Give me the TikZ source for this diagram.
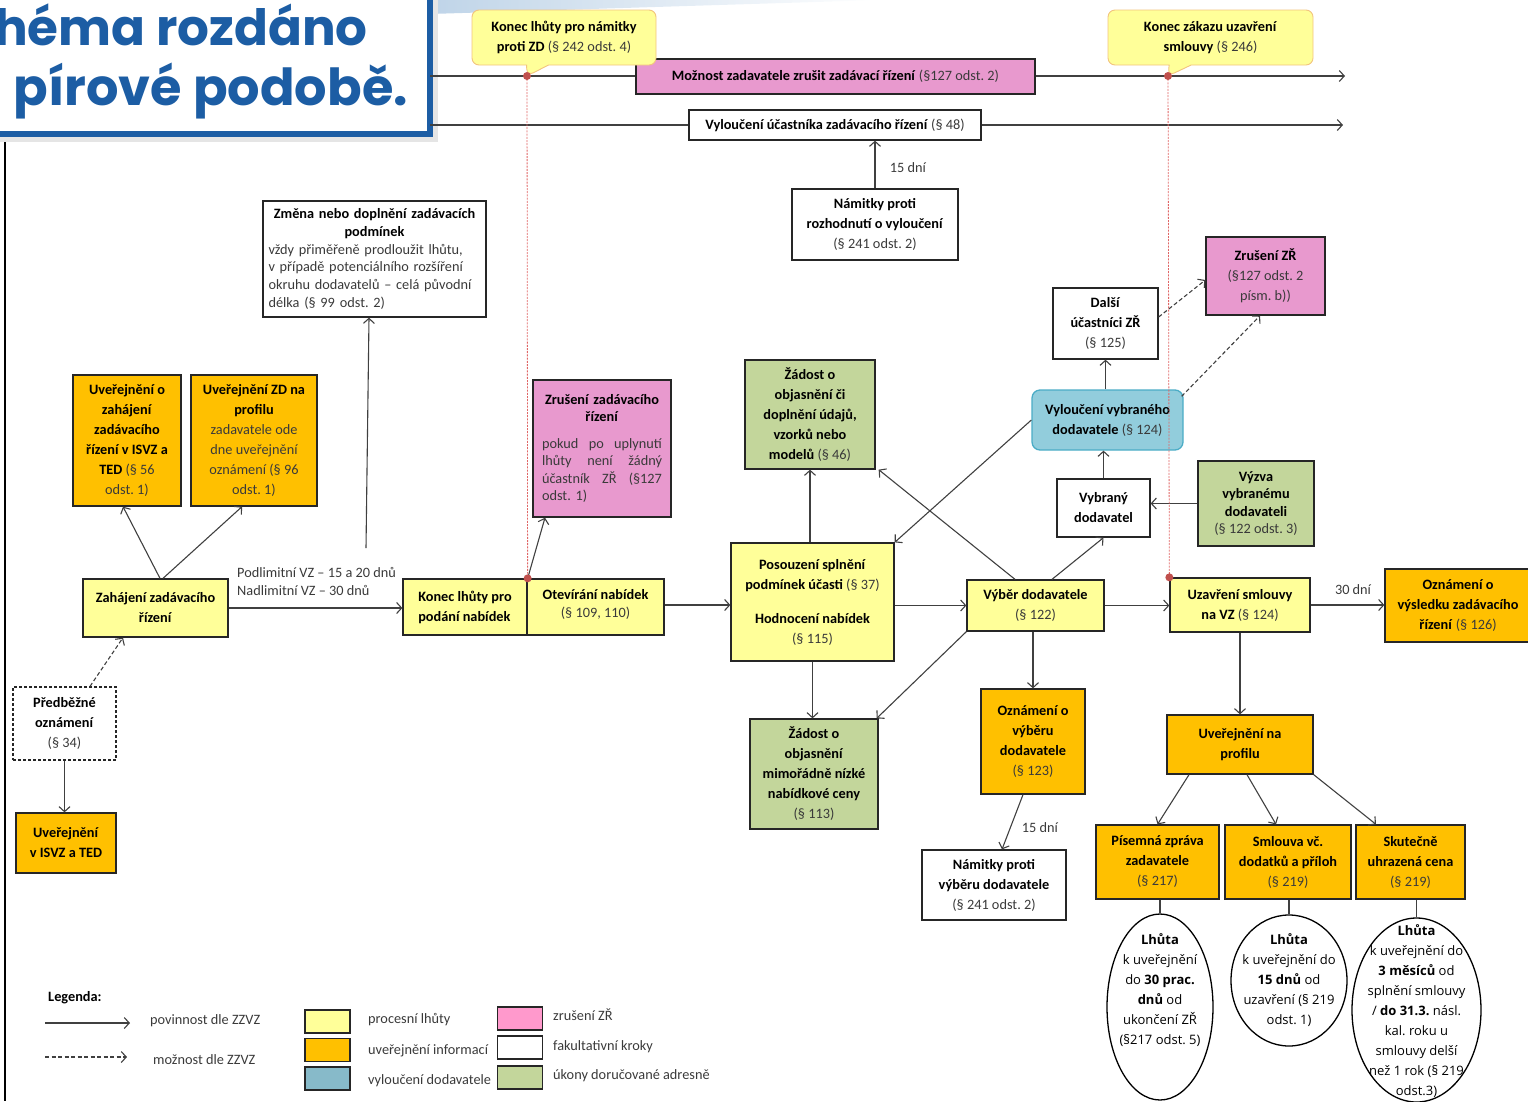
\documentclass[tikz,border=0pt]{standalone}
\usepackage{fontspec}
\setmainfont{Carlito}
\newfontfamily\ellfont{Open Sans}
\newfontfamily\titlefont{Poppins}
\usetikzlibrary{arrows.meta,shapes.geometric,shapes.callouts}

\definecolor{yelF}{HTML}{FFFF99}
\definecolor{orgF}{HTML}{FFC000}
\definecolor{pinkF}{HTML}{E899CE}
\definecolor{pinkL}{HTML}{FF99CC}
\definecolor{grnF}{HTML}{C3D69B}
\definecolor{bluF}{HTML}{92CDDC}
\definecolor{bluD}{HTML}{4BACC6}
\definecolor{bluL}{HTML}{87BAC9}
\definecolor{boxC}{HTML}{262626}
\definecolor{lineC}{HTML}{404040}
\definecolor{parC}{HTML}{3A3A3A}
\definecolor{callD}{HTML}{F2C47E}
\definecolor{redD}{HTML}{C0504D}
\definecolor{redL}{HTML}{E06666}
\definecolor{titleC}{HTML}{1C5DA4}
\definecolor{stripC}{HTML}{BFD4E8}

\newcommand{\parg}[1]{{\color{parC}#1}}

\begin{document}
\frenchspacing
\begin{tikzpicture}[x=1pt,y=-1pt,
  every node/.style={font=\fontsize{14.3}{20}\selectfont},
  wh/.style 2 args={minimum width=#1pt,minimum height=#2pt},
  box/.style={draw=boxC,line width=1.3pt,align=center,inner sep=2pt},
  yelbox/.style={box,fill=yelF},
  orgbox/.style={box,fill=orgF},
  pinkbox/.style={box,fill=pinkF},
  grnbox/.style={box,fill=grnF},
  whtbox/.style={box,fill=white},
  blubox/.style={box,draw=bluD,fill=bluF,rounded corners=8pt},
  callbox/.style={rectangle callout,draw=callD,fill=yelF,line width=0.9pt,
    rounded corners=7pt,align=center,inner sep=2pt,callout pointer width=22pt},
  ellbox/.style={ellipse,draw=black,line width=1.3pt,fill=white,inner sep=0pt},
  elltxt/.style={align=center,font=\ellfont\fontsize{13}{20}\selectfont,inner sep=0pt},
  lbl/.style={text=parC,inner sep=1pt},
  arr/.style={draw=lineC,line width=1.1pt,-{Straight Barb[length=5pt,width=11pt]}},
  darr/.style={arr,dash pattern=on 4pt off 2.5pt},
  redline/.style={draw=redL,line width=0.8pt,dash pattern=on 2pt off 1.2pt},
  swatch/.style={draw=black!85,line width=1.3pt,wh={45}{23}},
]
\useasboundingbox (0,0) rectangle (1528,1101);
\clip (0,0) rectangle (1528,1101);

% slide decoration and title
\shade[left color=stripC,right color=white] (430,0) -- (880,0) -- (430,14) -- cycle;
\draw[line width=1.2pt] (5,135) -- (5,1101);
\fill[black!10] (-20,-20) rectangle (438,142);
\draw[titleC,line width=5.5pt,fill=white] (-20,-20) rectangle (430,134);
\node[anchor=base east,inner sep=0pt,text=titleC,font=\titlefont\bfseries\fontsize{50}{56}\selectfont]
  (titleA) at (368,45) {héma rozdáno};
\node[anchor=base east,inner sep=0pt,text=titleC,font=\titlefont\bfseries\fontsize{51}{56}\selectfont]
  (titleB) at (408,105) {pírové podobě.};

% time axes
\coordinate (barAs) at (430,76);
\coordinate (barAe) at (1345,76);
\coordinate (barBs) at (430,125);
\coordinate (barBe) at (1343,125);
\coordinate (dotA) at (527,76);
\coordinate (dotC) at (1168,76);
\draw[arr] (barAs) -- (barAe);
\draw[arr] (barBs) -- (barBe);
\node[pinkbox,wh={399}{35}] (zrusBar) at (835.5,76.5)
  {\textbf{Možnost zadavatele zrušit zadávací řízení} \parg{(§127 odst. 2)}};
\node[whtbox,wh={292}{30}] (vylUc) at (835,125)
  {\textbf{Vyloučení účastníka zadávacího řízení} \parg{(§ 48)}};
\node[callbox,wh={184}{55},callout absolute pointer={(dotA)}] (callA) at (564,37.5)
  {\textbf{Konec lhůty pro námitky}\\\textbf{proti ZD} \parg{(§ 242 odst. 4)}};
\node[callbox,wh={205}{55},callout absolute pointer={(dotC)}] (callC) at (1210.5,37.5)
  {\textbf{Konec zákazu uzavření}\\\textbf{smlouvy} \parg{(§ 246)}};

% boxes
\node[whtbox,wh={166}{71}] (namVyl) at (875,224.5)
  {\textbf{Námitky proti}\\\textbf{rozhodnutí o vyloučení}\\\parg{(§ 241 odst. 2)}};
\node[whtbox,wh={223}{116},text width=212pt,align=left,font=\fontsize{14.3}{17.8}\selectfont] (zmena) at (374.5,259)
  {{\centering\textbf{Změna nebo doplnění zadávacích}\\\textbf{podmínek}\par}%
   \color{parC}vždy přiměřeně prodloužit lhůtu,\\v případě potenciálního rozšíření\\okruhu dodavatelů – celá původní\\délka (§ 99 odst. 2)};
\node[orgbox,wh={108}{131}] (uvZah) at (127,440.5)
  {\textbf{Uveřejnění o}\\\textbf{zahájení}\\\textbf{zadávacího}\\\textbf{řízení v ISVZ a}\\\textbf{TED} \parg{(§ 56}\\\parg{odst. 1)}};
\node[orgbox,wh={126}{131}] (uvZD) at (254,440.5)
  {\textbf{Uveřejnění ZD na}\\\textbf{profilu}\\\parg{zadavatele ode}\\\parg{dne uveřejnění}\\\parg{oznámení (§ 96}\\\parg{odst. 1)}};
\node[pinkbox,wh={138}{137},text width=120pt,align=left,font=\fontsize{14.3}{17.5}\selectfont] (zrusZR) at (602,448.5)
  {{\centering\textbf{Zrušení zadávacího}\\\textbf{řízení}\par}\vspace{9pt}%
   \color{parC}pokud\hfill po\hfill uplynutí\\lhůty\hfill není\hfill žádný\\účastník\hfill ZŘ\hfill (§127\\odst. 1)};
\node[yelbox,wh={145}{58}] (zahaj) at (155.5,608)
  {\textbf{Zahájení zadávacího}\\\textbf{řízení}};
\node[whtbox,wh={103}{73},dash pattern=on 3pt off 2pt] (pred) at (64.5,723.5)
  {\textbf{Předběžné}\\\textbf{oznámení}\\\parg{(§ 34)}};
\node[orgbox,wh={100}{60}] (uvISVZ) at (66,843)
  {\textbf{Uveřejnění}\\\textbf{v ISVZ a TED}};
\node[yelbox,wh={124}{56},align=left] (konec) at (465,607)
  {\textbf{Konec lhůty pro}\\\textbf{podání nabídek}};
\node[yelbox,wh={137}{56},font=\fontsize{14.3}{18}\selectfont,text depth=8pt] (otevir) at (595.5,607)
  {\textbf{Otevírání nabídek}\\\parg{(§ 109, 110)}};
\node[yelbox,wh={163}{118}] (posouz) at (812.5,602)
  {\textbf{Posouzení splnění}\\\textbf{podmínek účasti} \parg{(§ 37)}\\[14pt]\textbf{Hodnocení nabídek}\\\parg{(§ 115)}};
\node[grnbox,wh={130}{109}] (zad46) at (810,414.5)
  {\textbf{Žádost o}\\\textbf{objasnění či}\\\textbf{doplnění údajů,}\\\textbf{vzorků nebo}\\\textbf{modelů} \parg{(§ 46)}};
\node[grnbox,wh={128}{110}] (zad113) at (814,774)
  {\textbf{Žádost o}\\\textbf{objasnění}\\\textbf{mimořádně nízké}\\\textbf{nabídkové ceny}\\\parg{(§ 113)}};
\node[yelbox,wh={137}{51}] (vyber) at (1035.5,605.5)
  {\textbf{Výběr dodavatele}\\\parg{(§ 122)}};
\node[orgbox,wh={104}{105}] (oznVyb) at (1033,741.5)
  {\textbf{Oznámení o}\\\textbf{výběru}\\\textbf{dodavatele}\\\parg{(§ 123)}};
\node[whtbox,wh={144}{70}] (namVyb) at (994,885)
  {\textbf{Námitky proti}\\\textbf{výběru dodavatele}\\\parg{(§ 241 odst. 2)}};
\node[whtbox,wh={93}{58}] (vybrany) at (1103.5,508)
  {\textbf{Vybraný}\\\textbf{dodavatel}};
\node[grnbox,wh={116}{85},font=\fontsize{14.3}{17.5}\selectfont] (vyzva) at (1256,503.5)
  {\textbf{Výzva}\\\textbf{vybranému}\\\textbf{dodavateli}\\\parg{(§ 122 odst. 3)}};
\node[blubox,wh={151}{60}] (vylVyb) at (1107.5,420)
  {\textbf{Vyloučení vybraného}\\\textbf{dodavatele} \parg{(§ 124)}};
\node[whtbox,wh={105}{71}] (dalsi) at (1105.5,323.5)
  {\textbf{Další}\\\textbf{účastníci ZŘ}\\\parg{(§ 125)}};
\node[pinkbox,wh={119}{78}] (zrusZR2) at (1265.5,276)
  {\textbf{Zrušení ZŘ}\\\parg{(§127 odst. 2}\\\parg{písm. b))}};
\node[yelbox,wh={140}{54}] (uzavr) at (1240,605)
  {\textbf{Uzavření smlouvy}\\\textbf{na VZ} \parg{(§ 124)}};
\node[orgbox,wh={146}{73}] (oznVys) at (1458,605.5)
  {\textbf{Oznámení o}\\\textbf{výsledku zadávacího}\\\textbf{řízení} \parg{(§ 126)}};
\node[orgbox,wh={146}{59}] (uvProf) at (1240,744.5)
  {\textbf{Uveřejnění na}\\\textbf{profilu}};
\node[orgbox,wh={123}{74}] (pisZpr) at (1157.5,862)
  {\textbf{Písemná zpráva}\\\textbf{zadavatele}\\\parg{(§ 217)}};
\node[orgbox,wh={126}{74}] (smlouva) at (1288,862)
  {\textbf{Smlouva vč.}\\\textbf{dodatků a příloh}\\\parg{(§ 219)}};
\node[orgbox,wh={109}{74}] (skut) at (1410.5,862)
  {\textbf{Skutečně}\\\textbf{uhrazená cena}\\\parg{(§ 219)}};

% deadlines
\node[ellbox,wh={106}{186}] (ell1) at (1160,1007) {};
\node[ellbox,wh={116}{131}] (ell2) at (1289,980.5) {};
\node[ellbox,wh={129}{184}] (ell3) at (1416.5,1010) {};
\node[elltxt] (ell1t) at (1160,990)
  {\textbf{Lhůta}\\k uveřejnění\\do \textbf{30 prac.}\\\textbf{dnů} od\\ukončení ZŘ\\(§217 odst. 5)};
\node[elltxt] (ell2t) at (1289,980)
  {\textbf{Lhůta}\\k uveřejnění do\\\textbf{15 dnů} od\\uzavření (§ 219\\odst. 1)};
\node[elltxt] (ell3t) at (1416.5,1011)
  {\textbf{Lhůta}\\k uveřejnění do\\\textbf{3 měsíců} od\\splnění smlouvy\\/ \textbf{do 31.3.} násl.\\kal. roku u\\smlouvy delší\\než 1 rok (§ 219\\odst.3)};

% labels
\node[lbl] (lbl15a) at (908,168) {15 dní};
\node[lbl,anchor=west,align=left,font=\fontsize{14.3}{18}\selectfont] (limLbl) at (236,581)
  {Podlimitní VZ – 15 a 20 dnů\\Nadlimitní VZ – 30 dnů};
\node[lbl] (lbl15b) at (1040,828) {15 dní};
\node[lbl] (lbl30) at (1353,590) {30 dní};
\coordinate (zmenaFoot) at (366,548);

% connectors
\draw[arr] (namVyl.north) -- (namVyl.north |- vylUc.south);
\draw[arr] (zmenaFoot) -- ([xshift=-5.5pt]zmena.south);
\draw[arr] ([xshift=4.5pt]zahaj.north) -- ([xshift=-4pt]uvZah.south);
\draw[arr] ([xshift=7.5pt]zahaj.north) -- ([xshift=-12pt]uvZD.south);
\draw[darr] ([xshift=25.5pt]pred.north) -- ([xshift=-32.5pt]zahaj.south);
\draw[arr] (pred.south) -- (pred.south |- uvISVZ.north);
\draw[arr] (zahaj.east) -- (zahaj.east -| konec.west);
\draw[arr] (konec.north east) -- ([xshift=-57pt]zrusZR.south);
\draw[arr] ([yshift=2pt]otevir.east) -- ([yshift=2pt]otevir.east -| posouz.west);
\draw[arr] (zad46.south |- posouz.north) -- (zad46.south);
\draw[arr] (posouz.south) -- (posouz.south |- zad113.north);
\draw[arr] (vyber.west -| posouz.east) -- (vyber.west);
\draw[arr] ([xshift=-20.5pt]vyber.north) -- ([xshift=3pt]zad46.south east);
\draw[arr] (vyber.south west) -- ([xshift=-2pt]zad113.north east);
\draw[arr] ([xshift=16.5pt]vyber.north) -- (vybrany.south);
\draw[arr] (vylVyb.west) -- (posouz.north east);
\draw[arr] (vyber.east) -- (vyber.east -| uzavr.west);
\draw[arr] (oznVyb.north |- vyber.south) -- (oznVyb.north);
\draw[arr] ([xshift=-10pt]oznVyb.south) -- ([xshift=8pt]namVyb.north);
\draw[arr] (vybrany.north) -- (vybrany.north |- vylVyb.south);
\draw[arr] (vyzva.west) -- (vyzva.west -| vybrany.east);
\draw[arr] (dalsi.south |- vylVyb.north) -- (dalsi.south);
\draw[darr] ([yshift=6.5pt]dalsi.east) -- ([yshift=-4pt]zrusZR2.west);
\draw[darr] ([xshift=-2pt,yshift=-7pt]vylVyb.north east) -- ([xshift=-5.5pt]zrusZR2.south);
\draw[arr] (uzavr.east) -- (uzavr.east -| oznVys.west);
\draw[arr] (uzavr.south) -- (uzavr.south |- uvProf.north);
\draw[arr] ([xshift=-51pt]uvProf.south) -- (pisZpr.north);
\draw[arr] ([xshift=7pt]uvProf.south) -- ([xshift=-12pt]smlouva.north);
\draw[arr] (uvProf.south east) -- ([xshift=-34.5pt]skut.north);
\draw[draw=lineC,line width=1.1pt] (ell1.north |- pisZpr.south) -- (ell1.north);
\draw[draw=lineC,line width=1.1pt] (ell2.north |- smlouva.south) -- (ell2.north);
\draw[draw=lineC,line width=1.1pt] (ell3.north |- skut.south) -- (ell3.north);

% deadline markers
\draw[redline] (dotA) -- (konec.north east);
\draw[redline] (dotC) -- (uzavr.north west);
\fill[redD] (dotA) circle (4pt);
\fill[redD] (dotC) circle (4pt);
\fill[redD] (konec.north east) circle (4pt);
\fill[redD] (uzavr.north west) circle (4pt);

% legend
\node[anchor=west,inner sep=0pt] (legT) at (48,998) {\textbf{Legenda:}};
\coordinate (legA1) at (45,1023);
\coordinate (legA2) at (130,1023);
\coordinate (legB1) at (45,1057);
\coordinate (legB2) at (127,1057);
\draw[arr] (legA1) -- (legA2);
\draw[darr] (legB1) -- (legB2);
\node[lbl,anchor=west] (legAt) at (149,1021) {povinnost dle ZZVZ};
\node[lbl,anchor=west] (legBt) at (152,1060) {možnost dle ZZVZ};
\node[swatch,fill=yelF] (swY) at (327.5,1021.5) {};
\node[swatch,fill=orgF] (swO) at (327.5,1050) {};
\node[swatch,fill=bluL] (swB) at (327.5,1078.5) {};
\node[swatch,fill=pinkL] (swP) at (520,1018.5) {};
\node[swatch,fill=white] (swW) at (520,1047.5) {};
\node[swatch,fill=grnF] (swG) at (520,1077.5) {};
\node[lbl,anchor=west] (swYt) at (367,1020) {procesní lhůty};
\node[lbl,anchor=west] (swOt) at (367,1051) {uveřejnění informací};
\node[lbl,anchor=west] (swBt) at (367,1081) {vyloučení dodavatele};
\node[lbl,anchor=west] (swPt) at (552,1015) {zrušení ZŘ};
\node[lbl,anchor=west] (swWt) at (552,1047) {fakultativní kroky};
\node[lbl,anchor=west] (swGt) at (552,1076) {úkony doručované adresně};
\end{tikzpicture}
\end{document}
